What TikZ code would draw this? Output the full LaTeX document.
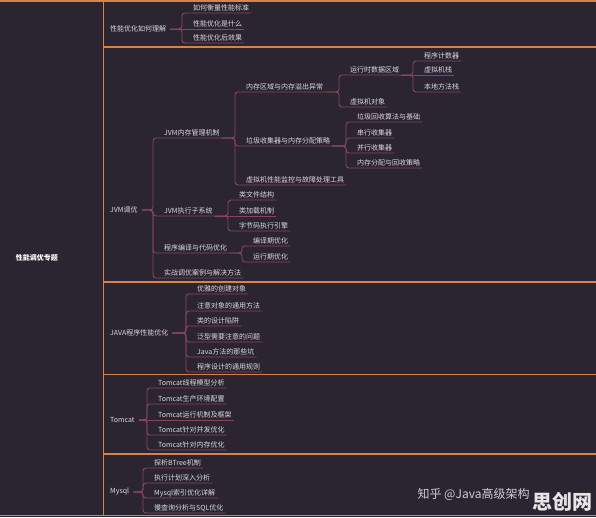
\documentclass[tikz,border=0pt]{standalone}
\usepackage{fontspec}
\setmainfont{Noto Sans CJK SC}
\usepackage{tikz}
\usepackage{xcolor}
\definecolor{MapBack}{HTML}{2B2532}
\definecolor{MapFrame}{HTML}{D4834C}
\definecolor{MapLine}{HTML}{8A4656}
\definecolor{MapText}{HTML}{DDD8DE}
\definecolor{MarkText}{HTML}{CFCDD3}

\begin{document}
\begin{tikzpicture}[
    x=1pt, y=-1pt,
    every node/.style={
        text=MapText,
        font=\fontsize{7}{8}\selectfont
    },
    topic/.style={
        anchor=west,
        inner xsep=4pt,
        inner ysep=1pt
    },
    leaf/.style={
        anchor=south west,
        inner xsep=2pt,
        inner ysep=1.5pt,
        text height=5.6pt,
        text depth=1.2pt
    },
    branch/.style={
        draw=MapLine,
        line width=0.9pt,
        rounded corners=3pt
    },
    frame/.style={
        draw=MapFrame,
        line width=1.4pt
    }
]

\useasboundingbox (0,0) rectangle (596,517);
\fill[MapBack] (0,0) rectangle (596,517);

\draw[frame] (0,1) -- (596,1);
\draw[frame] (0,515.5) -- (596,515.5);
\draw[frame] (103.5,1) -- (103.5,515.5);
\draw[frame] (103.5,47) -- (596,47);
\draw[frame] (103.5,282) -- (596,282);
\draw[frame] (103.5,374.5) -- (596,374.5);
\draw[frame] (103.5,454) -- (596,454);

\node[font=\fontsize{7}{8}\selectfont\bfseries, text=white] (main) at (37,258) {性能调优专题};

\node[topic] (perf) at (106,29) {性能优化如何理解};
\node[leaf] (measure) at (191,13) {如何衡量性能标准};
\node[leaf] (what) at (191,29) {性能优化是什么};
\node[leaf] (effect) at (191,43) {性能优化后效果};

\node[topic] (jvm) at (106,210) {JVM调优};
\node[leaf] (jmm) at (162,138) {JVM内存管理机制};
\node[leaf] (exec) at (162,216) {JVM执行子系统};
\node[leaf] (comp) at (162,253) {程序编译与代码优化};
\node[leaf] (tune) at (162,278) {实战调优案例与解决方法};

\node[leaf] (area) at (244,92) {内存区域与内存溢出异常};
\node[leaf] (gc) at (244,146) {垃圾收集器与内存分配策略};
\node[leaf] (tool) at (244,185) {虚拟机性能监控与故障处理工具};

\node[leaf] (rt) at (348,75) {运行时数据区域};
\node[leaf] (obj) at (348,107) {虚拟机对象};

\node[leaf] (pc) at (422,61) {程序计数器};
\node[leaf] (vms) at (422,75) {虚拟机栈};
\node[leaf] (nms) at (422,92) {本地方法栈};

\node[leaf] (algo) at (355,122) {垃圾回收算法与基础};
\node[leaf] (serial) at (355,138) {串行收集器};
\node[leaf] (parallel) at (355,153) {并行收集器};
\node[leaf] (alloc) at (355,168) {内存分配与回收策略};

\node[leaf] (cls) at (237,200) {类文件结构};
\node[leaf] (load) at (237,216) {类加载机制};
\node[leaf] (engine) at (237,231) {字节码执行引擎};

\node[leaf] (early) at (251,246) {编译期优化};
\node[leaf] (late) at (251,262) {运行期优化};

\node[topic] (java) at (106,333) {JAVA程序性能优化};
\node[leaf] (create) at (195,294) {优雅的创建对象};
\node[leaf] (common) at (195,311) {注意对象的通用方法};
\node[leaf] (design) at (195,326) {类的设计陷阱};
\node[leaf] (generic) at (195,342) {泛型需要注意的问题};
\node[leaf] (pit) at (195,357) {Java方法的那些坑};
\node[leaf] (rule) at (195,372) {程序设计的通用规则};

\node[topic] (tomcat) at (106,420) {Tomcat};
\node[leaf] (thread) at (156,388) {Tomcat线程模型分析};
\node[leaf] (deploy) at (156,404) {Tomcat生产环境配置};
\node[leaf] (frame) at (156,420) {Tomcat运行机制及框架};
\node[leaf] (conc) at (156,435) {Tomcat针对并发优化};
\node[leaf] (mem) at (156,450) {Tomcat针对内存优化};

\node[topic] (mysql) at (106,492) {Mysql};
\node[leaf] (btree) at (152,468) {探析BTree机制};
\node[leaf] (plan) at (152,483) {执行计划深入分析};
\node[leaf] (index) at (152,498) {Mysql索引优化详解};
\node[leaf] (slow) at (152,513) {慢查询分析与SQL优化};

\node[anchor=west, text=MarkText, font=\fontsize{12}{14}\selectfont] (zhihu) at (414,494) {知乎 @Java高级架构};
\node[text=white!90!black, font=\fontsize{20}{22}\selectfont\bfseries] (logo) at (562,502) {思创网};

\draw[branch] (perf.east) -| ([xshift=-9pt]measure.south west) -- (measure.south east);
\draw[branch] (perf.east) -- (what.south east);
\draw[branch] (perf.east) -| ([xshift=-9pt]effect.south west) -- (effect.south east);

\draw[branch] (jvm.east) -| ([xshift=-9pt]jmm.south west) -- (jmm.south east);
\draw[branch] (jvm.east) -| ([xshift=-9pt]exec.south west) -- (exec.south east);
\draw[branch] (jvm.east) -| ([xshift=-9pt]comp.south west) -- (comp.south east);
\draw[branch] (jvm.east) -| ([xshift=-9pt]tune.south west) -- (tune.south east);

\draw[branch] (jmm.south east) -| ([xshift=-9pt]area.south west) -- (area.south east);
\draw[branch] (jmm.south east) -| ([xshift=-9pt]gc.south west) -- (gc.south east);
\draw[branch] (jmm.south east) -| ([xshift=-9pt]tool.south west) -- (tool.south east);

\draw[branch] (area.south east) -| ([xshift=-9pt]rt.south west) -- (rt.south east);
\draw[branch] (area.south east) -| ([xshift=-9pt]obj.south west) -- (obj.south east);

\draw[branch] (rt.south east) -| ([xshift=-9pt]pc.south west) -- (pc.south east);
\draw[branch] (rt.south east) -- (vms.south east);
\draw[branch] (rt.south east) -| ([xshift=-9pt]nms.south west) -- (nms.south east);

\draw[branch] (gc.south east) -| ([xshift=-9pt]algo.south west) -- (algo.south east);
\draw[branch] (gc.south east) -| ([xshift=-9pt]serial.south west) -- (serial.south east);
\draw[branch] (gc.south east) -| ([xshift=-9pt]parallel.south west) -- (parallel.south east);
\draw[branch] (gc.south east) -| ([xshift=-9pt]alloc.south west) -- (alloc.south east);

\draw[branch] (exec.south east) -| ([xshift=-9pt]cls.south west) -- (cls.south east);
\draw[branch] (exec.south east) -- (load.south east);
\draw[branch] (exec.south east) -| ([xshift=-9pt]engine.south west) -- (engine.south east);

\draw[branch] (comp.south east) -| ([xshift=-9pt]early.south west) -- (early.south east);
\draw[branch] (comp.south east) -| ([xshift=-9pt]late.south west) -- (late.south east);

\draw[branch] (java.east) -| ([xshift=-9pt]create.south west) -- (create.south east);
\draw[branch] (java.east) -| ([xshift=-9pt]common.south west) -- (common.south east);
\draw[branch] (java.east) -| ([xshift=-9pt]design.south west) -- (design.south east);
\draw[branch] (java.east) -| ([xshift=-9pt]generic.south west) -- (generic.south east);
\draw[branch] (java.east) -| ([xshift=-9pt]pit.south west) -- (pit.south east);
\draw[branch] (java.east) -| ([xshift=-9pt]rule.south west) -- (rule.south east);

\draw[branch] (tomcat.east) -| ([xshift=-9pt]thread.south west) -- (thread.south east);
\draw[branch] (tomcat.east) -| ([xshift=-9pt]deploy.south west) -- (deploy.south east);
\draw[branch] (tomcat.east) -- (frame.south east);
\draw[branch] (tomcat.east) -| ([xshift=-9pt]conc.south west) -- (conc.south east);
\draw[branch] (tomcat.east) -| ([xshift=-9pt]mem.south west) -- (mem.south east);

\draw[branch] (mysql.east) -| ([xshift=-9pt]btree.south west) -- (btree.south east);
\draw[branch] (mysql.east) -| ([xshift=-9pt]plan.south west) -- (plan.south east);
\draw[branch] (mysql.east) -| ([xshift=-9pt]index.south west) -- (index.south east);
\draw[branch] (mysql.east) -| ([xshift=-9pt]slow.south west) -- (slow.south east);

\end{tikzpicture}
\end{document}
